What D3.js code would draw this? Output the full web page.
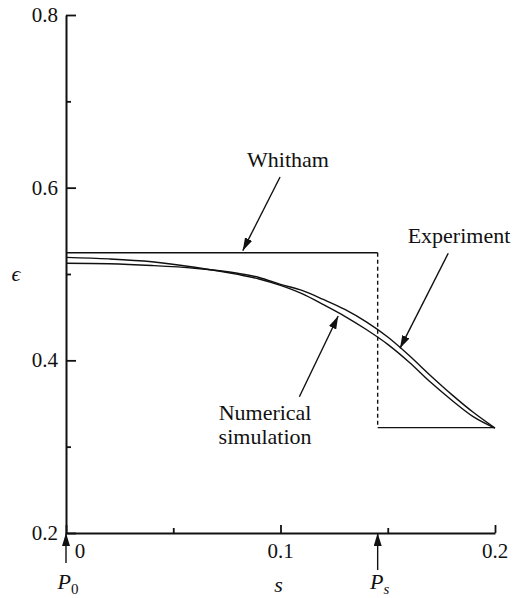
<!DOCTYPE html>
<html>
<head>
<meta charset="utf-8">
<script src="https://cdn.jsdelivr.net/npm/d3@7"></script>
<style>
  html, body { margin: 0; padding: 0; background: #fff; }
  svg { display: block; }
</style>
</head>
<body>
<div id="chart"></div>
<script>
/* eps versus s: Whitham theory, experiment and numerical simulation */

const sMajor = [0, 0.1, 0.2];
const sMinor = [0.05, 0.15];
const epsMajor = [0.2, 0.4, 0.6, 0.8];
const epsMinor = [0.3, 0.5, 0.7];

const sSamples = [0, 0.02, 0.04, 0.06, 0.08, 0.09, 0.10, 0.11, 0.12, 0.13, 0.14, 0.15, 0.16, 0.17, 0.18, 0.19, 0.2];
const experiment = [0.5124, 0.5118, 0.5098, 0.5066, 0.5008, 0.4960, 0.4880, 0.4810, 0.4705, 0.4590, 0.4445, 0.4270, 0.4056, 0.3822, 0.3600, 0.3395, 0.3216];
const numerical  = [0.5193, 0.5175, 0.5142, 0.5078, 0.4995, 0.4942, 0.4868, 0.4772, 0.4645, 0.4510, 0.4357, 0.4185, 0.3978, 0.3745, 0.3535, 0.3345, 0.3216];

// Whitham: plateau, shock at P_s, lower plateau
const whithamHigh = 0.5247;
const whithamLow = 0.322;
const shockS = 0.1453;

const FONT = '"Liberation Serif", serif';
const W = 514, H = 598;
const x = d3.scaleLinear().domain([0, 0.2]).range([66, 495]);
const y = d3.scaleLinear().domain([0.2, 0.8]).range([533, 15]);

const svg = d3.select('#chart').append('svg')
  .attr('width', W).attr('height', H);

svg.append('defs').append('marker')
  .attr('id', 'head')
  .attr('markerUnits', 'userSpaceOnUse')
  .attr('viewBox', '0 -4 13 8')
  .attr('refX', 13).attr('refY', 0)
  .attr('markerWidth', 13).attr('markerHeight', 8)
  .attr('orient', 'auto')
  .append('path').attr('d', 'M0,-4L13,0L0,4Z').attr('fill', '#111');

// axes: ticks point inward, labels drawn by hand below
svg.append('g')
  .attr('transform', 'translate(0,' + y(0.2) + ')')
  .call(d3.axisBottom(x).tickValues(sMajor).tickSizeInner(-8).tickSizeOuter(0).tickFormat(''));
svg.append('g')
  .attr('transform', 'translate(0,' + y(0.2) + ')')
  .call(d3.axisBottom(x).tickValues(sMinor).tickSizeInner(-5).tickSizeOuter(0).tickFormat(''))
  .select('.domain').remove();

svg.append('g')
  .attr('transform', 'translate(' + x(0) + ',0)')
  .call(d3.axisLeft(y).tickValues(epsMajor).tickSizeInner(-10).tickSizeOuter(0).tickFormat(''));
svg.append('g')
  .attr('transform', 'translate(' + x(0) + ',0)')
  .call(d3.axisLeft(y).tickValues(epsMinor).tickSizeInner(-5).tickSizeOuter(0).tickFormat(''))
  .select('.domain').remove();

svg.selectAll('.domain').attr('stroke', '#111').attr('stroke-width', 2);
svg.selectAll('.tick line').attr('stroke', '#111').attr('stroke-width', 1.8);

const labelsG = svg.append('g').attr('fill', '#111');

// tick labels
labelsG.append('g').selectAll('text').data(epsMajor).join('text')
  .attr('x', 58).attr('y', d => y(d) + 7)
  .attr('text-anchor', 'end').attr('font-size', 21)
  .text(d => d3.format('.1f')(d));

labelsG.append('g').selectAll('text').data(sMajor).join('text')
  .attr('x', d => d === 0 ? x(d) + 14 : x(d))
  .attr('y', y(0.2) + 25)
  .attr('text-anchor', 'middle').attr('font-size', 21)
  .text(d => d === 0 ? '0' : d3.format('.1f')(d));

// axis titles
labelsG.append('text')
  .attr('x', 16).attr('y', y(0.5) + 7)
  .attr('text-anchor', 'middle').attr('font-size', 22).attr('font-style', 'italic')
  .text('\u03F5');
labelsG.append('text')
  .attr('x', x(0.1) - 2).attr('y', y(0.2) + 59)
  .attr('text-anchor', 'middle').attr('font-size', 22).attr('font-style', 'italic')
  .text('s');

// Whitham step
const wh = svg.append('g').attr('stroke', '#111').attr('fill', 'none').attr('stroke-width', 1.4);
wh.append('line')
  .attr('x1', x(0)).attr('x2', x(shockS))
  .attr('y1', y(whithamHigh)).attr('y2', y(whithamHigh));
wh.append('line')
  .attr('x1', x(shockS)).attr('x2', x(shockS))
  .attr('y1', y(whithamHigh)).attr('y2', y(whithamLow))
  .attr('stroke-dasharray', '4,3');
wh.append('line')
  .attr('x1', x(shockS)).attr('x2', x(0.2))
  .attr('y1', y(whithamLow)).attr('y2', y(whithamLow));

// experiment and numerical curves
const line = d3.line()
  .x((d, i) => x(sSamples[i]))
  .y(d => y(d))
  .curve(d3.curveMonotoneX);

[experiment, numerical].forEach(series => {
  svg.append('path')
    .attr('d', line(series))
    .attr('fill', 'none')
    .attr('stroke', '#111')
    .attr('stroke-width', 1.4);
});

// annotations (data coordinates)
const arrows = [
  { from: [0.0998, 0.6124], to: [0.0824, 0.5270] },
  { from: [0.1782, 0.5240], to: [0.1557, 0.4139] },
  { from: [0.1088, 0.3579], to: [0.1269, 0.4513] },
  { from: [0, 0.1653], to: [0, 0.2] },
  { from: [shockS, 0.1571], to: [shockS, 0.2] }
];
svg.append('g').selectAll('line').data(arrows).join('line')
  .attr('x1', d => x(d.from[0])).attr('y1', d => y(d.from[1]))
  .attr('x2', d => x(d.to[0])).attr('y2', d => y(d.to[1]))
  .attr('stroke', '#111').attr('stroke-width', 1.4)
  .attr('marker-end', 'url(#head)');

const labels = [
  { s: 0.1035, e: 0.6239, text: 'Whitham' },
  { s: 0.1832, e: 0.5359, text: 'Experiment' },
  { s: 0.0928, e: 0.3309, text: 'Numerical' },
  { s: 0.0928, e: 0.3031, text: 'simulation' }
];
labelsG.append('g').selectAll('text').data(labels).join('text')
  .attr('x', d => x(d.s)).attr('y', d => y(d.e))
  .attr('text-anchor', 'middle').attr('font-size', 22)
  .text(d => d.text);

// point labels P0 and Ps under the axis
function pointLabel(sVal, sub, subItalic) {
  const t = labelsG.append('text')
    .attr('x', x(sVal) + 2).attr('y', y(0.2) + 56)
    .attr('text-anchor', 'middle').attr('font-size', 22);
  t.append('tspan').style('font-style', 'italic').text('P');
  t.append('tspan').attr('font-size', 15).attr('dy', 5)
    .style('font-style', subItalic ? 'italic' : 'normal').text(sub);
}
pointLabel(0, '0', false);
pointLabel(shockS, 's', true);

svg.selectAll('text').style('font-family', FONT);
</script>
</body>
</html>
